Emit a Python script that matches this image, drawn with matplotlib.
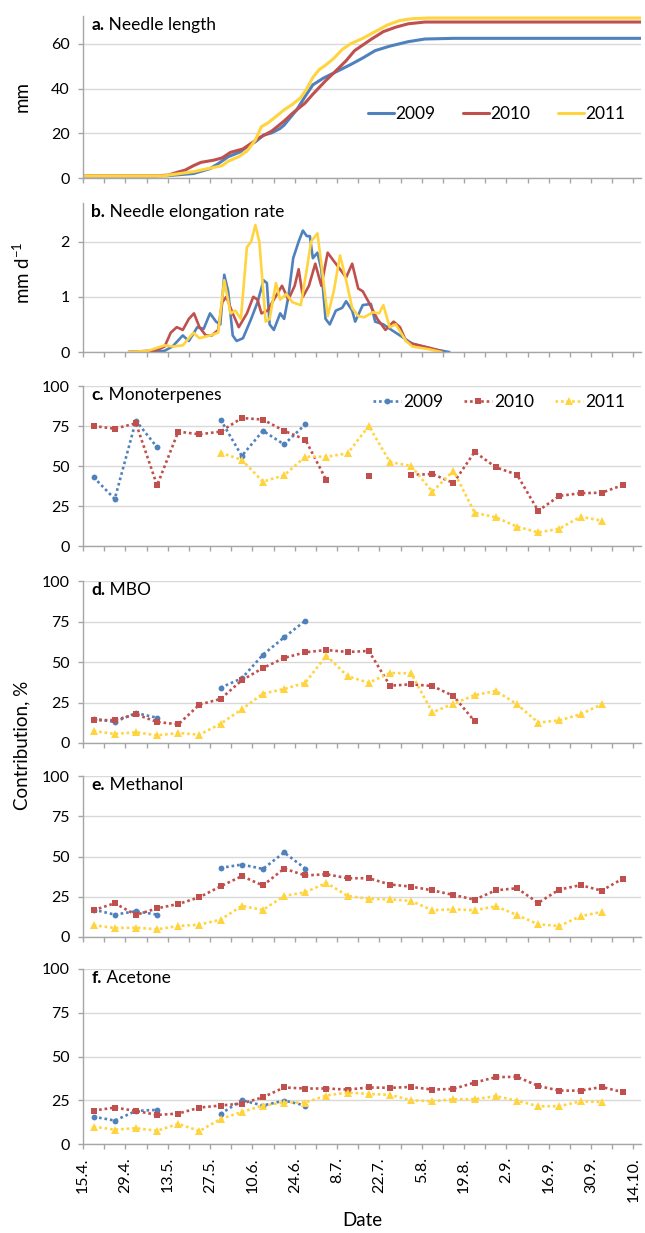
import numpy as np
import matplotlib
matplotlib.use("Agg")
import matplotlib.pyplot as plt
from matplotlib.ticker import MultipleLocator, FixedLocator

plt.rcParams['font.family'] = ['Lato', 'DejaVu Sans']
plt.rcParams['mathtext.default'] = 'regular'

YEARS = ["2009", "2010", "2011"]
COLORS = ["#4F81BD", "#C0504D", "#FFD43F"]
MARKERS = ["o", "s", "^"]

DATE_LABELS = ["15.4.", "29.4.", "13.5.", "27.5.", "10.6.", "24.6.", "8.7.",
               "22.7.", "5.8.", "19.8.", "2.9.", "16.9.", "30.9.", "14.10."]
DATE_TICK_DAYS = [0, 14, 28, 42, 56, 70, 84, 98, 112, 126, 140, 154, 168, 182]

# ---- panel a: needle length (mm), day since 15.4.
len09_day = [0, 20, 27.6, 32, 36.5, 42, 44.7, 48, 52, 54.2, 57, 59.7, 62.4, 65.2, 66.5, 70.6, 73.4, 76,
             79.5, 82.9, 88.4, 92.5, 96.6, 101.4, 107.5, 113, 122.5, 184.5]
len09_val = [1, 1, 1, 1.5, 2, 4.2, 6.4, 9.5, 11.7, 14, 16.2, 19.2, 20.2, 22.2, 23.7, 30.4, 36.4, 41.7,
             44.7, 47, 50.7, 53.7, 57, 59, 61, 62.2, 62.5, 62.5]
len10_day = [0, 24, 28.3, 31, 33.7, 36.5, 39, 43.3, 46, 48.8, 52.9, 55.6, 58.3, 62.4, 66.5, 69.3, 73.4,
             76, 80.2, 82.9, 87, 89.8, 95.2, 99.3, 103.4, 107.5, 113, 184.5]
len10_val = [1, 1, 1.3, 2.5, 3.5, 5.5, 7, 8, 9, 11.5, 13, 15.5, 18, 21, 25.5, 29, 33.5,
             37.5, 43.5, 47, 52.5, 57, 62, 65.5, 67.5, 69, 69.8, 69.8]
len11_day = [0, 26.9, 31, 36.5, 40.6, 46, 48, 51.5, 54.2, 57, 59, 61, 63.8, 66.5, 69.3, 72, 74, 76,
             78.1, 80.2, 82.9, 85.7, 88.4, 92.5, 96.6, 100.7, 104.8, 108.9, 114.3, 184.5]
len11_val = [1, 1, 1.8, 2.8, 4, 5.5, 7.5, 9.5, 12, 17, 23, 24.5, 27.5, 30.5, 33, 36, 40, 45,
             48.5, 50.5, 53.5, 57.5, 60, 62.5, 65.5, 68.5, 70.5, 71.3, 71.6, 71.6]

# ---- panel b: needle elongation rate (mm d-1)
rate09_day = [15.5, 18.7, 26.9, 29.6, 33, 35, 37.8, 39.9, 42, 44, 45.4, 46.7, 48, 49.5, 50.8, 52.9, 55.6,
              57.7, 59.7, 60.8, 61.7, 63.1, 65.2, 66.5, 67.9, 69.5, 71.3, 72.7, 74, 75, 76, 77.5, 78.8,
              80.2, 81.6, 83.6, 85.7, 87, 89, 90, 92.5, 95.2, 96.6, 99.3, 102, 104.8, 108.9, 115.7, 121]
rate09_val = [0, 0, 0.02, 0.1, 0.3, 0.2, 0.45, 0.42, 0.7, 0.55, 0.5, 1.4, 1.1, 0.3, 0.2, 0.25, 0.6,
              0.9, 1.3, 1.25, 0.5, 0.4, 0.7, 0.6, 1.0, 1.7, 2.0, 2.2, 2.1, 2.1, 1.7, 1.8, 1.5,
              0.6, 0.5, 0.75, 0.8, 0.92, 0.75, 0.55, 0.85, 0.87, 0.55, 0.5, 0.4, 0.3, 0.15, 0.05, 0]
rate10_day = [15.3, 24.2, 27, 29, 31, 33, 35, 36.7, 38.5, 40.6, 42.6, 44.7, 46, 47.4, 49.5, 51.5, 54.2,
              56.3, 57.7, 59, 61, 63.1, 65.8, 67.9, 70, 71.3, 72.7, 74.7, 76.8, 78.8, 80.9, 82.9, 85,
              87, 89, 91, 92.5, 94.5, 97.3, 100, 102.7, 104.8, 106.8, 108.9, 114.3, 118.4]
rate10_val = [0, 0.03, 0.1, 0.35, 0.45, 0.4, 0.6, 0.7, 0.45, 0.3, 0.3, 0.4, 0.9, 1.0, 0.7, 0.45, 0.7,
              1.0, 0.95, 0.7, 0.75, 0.95, 1.2, 0.95, 1.2, 1.5, 1.0, 1.2, 1.6, 1.2, 1.8, 1.65, 1.5,
              1.35, 1.6, 1.15, 1.1, 0.9, 0.6, 0.4, 0.55, 0.45, 0.2, 0.15, 0.08, 0.02]
rate11_day = [15.3, 21.4, 27, 29.6, 33, 36.5, 38.5, 42, 44.7, 46.7, 48.8, 50.4, 52.2, 54.2, 55.6, 57,
              58.3, 60.4, 61.7, 63.8, 65.2, 67.2, 69.3, 72, 74, 75.4, 77.5, 78.8, 80.9, 82.9, 85, 87,
              89, 91, 93, 95.8, 97.9, 99.3, 101.4, 103.4, 106.8, 108.9, 114.3, 118.4]
rate11_val = [0, 0.02, 0.12, 0.1, 0.12, 0.35, 0.25, 0.3, 0.35, 1.3, 0.7, 0.75, 0.6, 1.9, 2.0, 2.3,
              2.0, 0.55, 0.6, 1.25, 0.95, 1.05, 0.9, 0.85, 1.5, 2.0, 2.15, 1.6, 0.65, 1.1, 1.75, 1.3,
              0.8, 0.65, 0.63, 0.72, 0.7, 0.85, 0.45, 0.5, 0.2, 0.1, 0.05, 0]

# ---- panels c-f: weekly contributions (%), sampling weeks starting 15.4.
week_day = [3.5, 10.5, 17.5, 24.5, 31.5, 38.5, 45.5, 52.5, 59.5, 66.5, 73.5, 80.5, 87.5,
            94.5, 101.5, 108.5, 115.5, 122.5, 129.5, 136.5, 143.5, 150.5, 157.5, 164.5, 171.5, 178.5]
nan = np.nan
mono09 = [43, 29.4, 78.3, 61.7, nan, nan, 79, 56.3, 72, 63.5, 76] + [nan] * 15
mono10 = [75, 73.3, 76.7, 37.9, 71.5, 69.8, 71.5, 80, 79, 72, 66.5, 41, nan, 43.8, nan,
          44.4, 45, 39.4, 58.8, 49.2, 44.6, 22, 31.3, 33, 33.3, 38.1]
mono11 = [nan] * 6 + [58.3, 53.8, 40.2, 44.2, 55.8, 55.8, 57.9, 75, 52.5, 50, 34, 47,
                      20.8, 17.9, 12.1, 8.5, 10.8, 18.3, 15.8, nan]
mbo09 = [15, 13, 18.5, 15.6, nan, nan, 34.2, 39.9, 54.5, 65.2, 75.5] + [nan] * 15
mbo10 = [14, 14.2, 17.7, 13, 11.5, 23.7, 27.2, 38.7, 46.3, 52.5, 56, 57.4, 56.2, 56.8,
         35.4, 36.2, 35.2, 29, 13.4] + [nan] * 7
mbo11 = [7.4, 5.6, 6.6, 4.7, 6.2, 5.1, 11.9, 20.8, 30.5, 33.3, 37.2, 54, 41.2, 37.2, 43.2,
         43, 18.9, 24.3, 29.5, 32.2, 23.9, 12.6, 14, 17.7, 23.9, nan]
meth09 = [17, 13.9, 16, 13.9, nan, nan, 42.9, 45, 42.3, 52.5, 42.5] + [nan] * 15
meth10 = [16.6, 21, 13.7, 17.8, 20.5, 24.7, 31.5, 37.8, 32, 42.5, 38.2, 39, 36.5, 36.5,
          32.6, 31.3, 29, 26.1, 23.2, 29, 30.3, 21.2, 29.5, 32.2, 28.8, 36.3]
meth11 = [7.3, 5.6, 5.8, 4.8, 6.8, 7.7, 10.8, 19.3, 16.8, 25.5, 27.8, 33.6, 25.5, 23.7,
          23.4, 22.4, 16.6, 17.2, 16.6, 19.1, 13.7, 7.9, 6.8, 12.9, 15.6, nan]
acet09 = [15.6, 13.4, 18.9, 19.5, nan, nan, 17.2, 25, 22, 24.8, 22] + [nan] * 15
acet10 = [19.1, 20.8, 18.9, 16.6, 17.4, 20.8, 22, 23.1, 26.7, 32.3, 31.7, 31.7, 31.1, 32.3,
          32.1, 32.6, 31.1, 31.5, 35.1, 38.2, 38.4, 33.2, 30.5, 30.5, 32.6, 29.6]
acet11 = [9.9, 8.2, 9, 7.6, 11.5, 7.4, 14.3, 18.3, 22, 23.7, 23.7, 27.7, 29.4, 28.6, 28.1,
          25, 24.4, 25.6, 25.6, 27.3, 24.8, 21.6, 21.6, 24.4, 24, nan]

# ---------------- layout ----------------
W, H = 645, 1233
fig = plt.figure(figsize=(W / 100, H / 100), dpi=100)
left = 83 / W
width = (641 - 83) / W
panels_px = [(16, 178), (203, 352), (386, 546), (581, 743), (776, 937), (969, 1144)]
axes = []
for top, bot in panels_px:
    axes.append(fig.add_axes([left, 1 - bot / H, width, (bot - top) / H]))

GRID = "#D9D9D9"
SPINE = "#A6A6A6"
TICKFS = 11.5
TITLEFS = 12.5
LEGFS = 12.5


def style(ax, ylim, yticks, show_x):
    ax.set_xlim(0, 184.5)
    ax.set_ylim(*ylim)
    ax.set_yticks(yticks)
    ax.yaxis.grid(True, color=GRID, lw=1.0)
    ax.set_axisbelow(True)
    for s in ("top", "right"):
        ax.spines[s].set_visible(False)
    for s in ("left", "bottom"):
        ax.spines[s].set_color(SPINE)
        ax.spines[s].set_linewidth(1.0)
    ax.xaxis.set_major_locator(FixedLocator(DATE_TICK_DAYS))
    ax.xaxis.set_minor_locator(MultipleLocator(7))
    ax.tick_params(axis="x", which="both", direction="out", length=3.5, color=SPINE, width=1.0)
    ax.tick_params(axis="y", which="both", direction="out", length=3.5, color=SPINE, width=1.0,
                   labelsize=TICKFS, pad=6)
    if show_x:
        ax.set_xticklabels(DATE_LABELS, rotation=90, fontsize=TICKFS)
        ax.tick_params(axis="x", pad=6)
    else:
        ax.set_xticklabels([])


def title(ax, letter, text):
    t1 = ax.annotate(letter, xy=(0, 1), xycoords="axes fraction", xytext=(6, -1),
                     textcoords="offset points", va="top", ha="left",
                     fontsize=TITLEFS, fontweight="bold")
    ax.annotate(" " + text, xy=(1, 0), xycoords=t1, va="bottom", ha="left", fontsize=TITLEFS)


# panel a
ax = axes[0]
for d, v, c, lab in [(len09_day, len09_val, COLORS[0], YEARS[0]),
                     (len10_day, len10_val, COLORS[1], YEARS[1]),
                     (len11_day, len11_val, COLORS[2], YEARS[2])]:
    ax.plot(d, v, color=c, lw=2.2, label=lab, solid_capstyle="round")
style(ax, (0, 72.5), [0, 20, 40, 60], False)
title(ax, "a.", "Needle length")
ax.legend(ncol=3, frameon=False, loc="center right", bbox_to_anchor=(0.985, 0.395),
          handlelength=1.5, handletextpad=0.08, columnspacing=1.6, fontsize=LEGFS,
          borderaxespad=0)

# panel b
ax = axes[1]
for d, v, c in [(rate09_day, rate09_val, COLORS[0]), (rate10_day, rate10_val, COLORS[1]),
                (rate11_day, rate11_val, COLORS[2])]:
    ax.plot(d, v, color=c, lw=1.9)
style(ax, (0, 2.7), [0, 1, 2], False)
title(ax, "b.", "Needle elongation rate")

series = [
    ("c.", "Monoterpenes", [mono09, mono10, mono11]),
    ("d.", "MBO", [mbo09, mbo10, mbo11]),
    ("e.", "Methanol", [meth09, meth10, meth11]),
    ("f.", "Acetone", [acet09, acet10, acet11]),
]
for i, (letter, name, data) in enumerate(series):
    ax = axes[2 + i]
    for vals, c, m, lab in zip(data, COLORS, MARKERS, YEARS):
        ms = 4.2 if m == "o" else (4.6 if m == "s" else 5.2)
        ax.plot(week_day, vals, color=c, lw=1.9, linestyle=(0, (1, 1.1)), marker=m,
                markersize=ms, markeredgewidth=0, label=lab)
    style(ax, (0, 100), [0, 25, 50, 75, 100], i == 3)
    title(ax, letter, name)
    if i == 0:
        ax.legend(ncol=3, frameon=False, loc="center right", bbox_to_anchor=(0.985, 0.9),
                  handlelength=1.6, handletextpad=0.15, columnspacing=1.2, fontsize=LEGFS,
                  borderaxespad=0)

# axis labels
fig.text(22 / W, 1 - 97 / H, "mm", rotation=90, ha="center", va="center", fontsize=13.5)
fig.text(22 / W, 1 - 273 / H, "mm d$^{-1}$", rotation=90, ha="center", va="center", fontsize=13.5)
fig.text(22 / W, 1 - 745 / H, "Contribution, %", rotation=90, ha="center", va="center", fontsize=13.5)
fig.text((83 + 641) / 2 / W, 1 - 1221 / H, "Date", ha="center", va="center", fontsize=13.5)

fig.savefig("out.png", dpi=100)
